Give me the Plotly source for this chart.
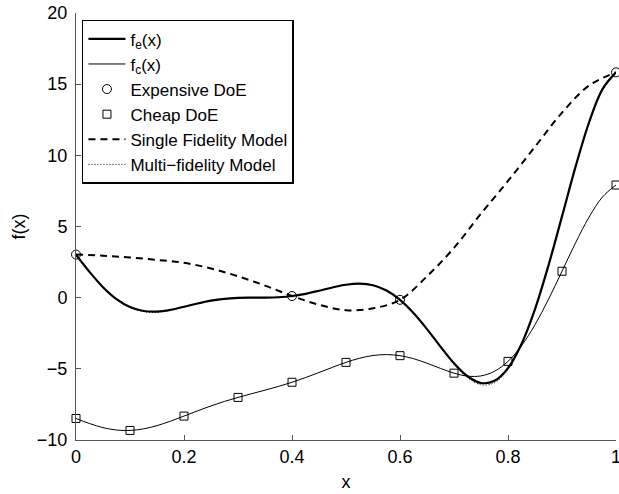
import plotly.graph_objects as go

# sample grid for the smooth curves
x_fine = [0.0, 0.025, 0.05, 0.075, 0.1, 0.125, 0.15, 0.175, 0.2, 0.225, 0.25,
          0.275, 0.3, 0.325, 0.35, 0.375, 0.4, 0.425, 0.45, 0.475, 0.5,
          0.525, 0.55, 0.575, 0.6, 0.625, 0.65, 0.675, 0.7, 0.725, 0.75,
          0.775, 0.8, 0.825, 0.85, 0.875, 0.9, 0.925, 0.95, 0.975, 1.0]

# expensive (high fidelity) function
f_e = [3.027, 1.813, 0.738, -0.100, -0.657, -0.935, -0.978, -0.854, -0.640, -0.407, -0.210,
       -0.079, -0.016, -0.000, 0.002, 0.030, 0.115, 0.270, 0.483, 0.717, 0.909,
       0.986, 0.871, 0.503, -0.150, -1.074, -2.209, -3.439, -4.606, -5.522, -5.993,
       -5.845, -4.949, -3.253, -0.799, 2.272, 5.712, 9.187, 12.303, 14.649, 15.830]

# cheap (low fidelity) function
f_c = [-8.487, -8.843, -9.131, -9.300, -9.329, -9.218, -8.989, -8.677, -8.320, -7.954, -7.605,
       -7.289, -7.008, -6.750, -6.499, -6.235, -5.943, -5.615, -5.259, -4.892, -4.545,
       -4.257, -4.064, -3.999, -4.075, -4.287, -4.605, -4.970, -5.303, -5.511, -5.497,
       -5.173, -4.475, -3.377, -1.900, -0.114, 1.856, 3.844, 5.652, 7.075, 7.915]

# co-kriging prediction
f_multi = [3.027, 1.800, 0.720, -0.130, -0.700, -0.975, -1.020, -0.890, -0.660, -0.415, -0.212,
           -0.080, -0.016, 0.000, 0.003, 0.031, 0.115, 0.272, 0.486, 0.720, 0.910,
           0.985, 0.866, 0.496, -0.150, -1.090, -2.240, -3.490, -4.680, -5.620, -6.120,
           -5.980, -5.060, -3.320, -0.840, 2.240, 5.690, 9.170, 12.250, 14.600, 15.830]

# ordinary kriging on the expensive points only
x_sf = [0.0, 0.05, 0.1, 0.15, 0.2, 0.25, 0.3, 0.35, 0.4, 0.45, 0.5,
        0.55, 0.6, 0.65, 0.7, 0.75, 0.8, 0.85, 0.9, 0.95, 1.0]
f_single = [3.03, 2.95, 2.82, 2.65, 2.45, 2.05, 1.50, 0.85, 0.12, -0.50, -0.88,
            -0.75, -0.15, 1.50, 3.50, 5.90, 8.20, 10.60, 13.00, 14.90, 15.83]

# designs of experiments
x_exp = [0.0, 0.4, 0.6, 1.0]
y_exp = [3.027, 0.115, -0.150, 15.830]
x_cheap = [0.0, 0.1, 0.2, 0.3, 0.4, 0.5, 0.6, 0.7, 0.8, 0.9, 1.0]
y_cheap = [-8.487, -9.329, -8.320, -7.008, -5.943, -4.545, -4.075, -5.303, -4.475, 1.856, 7.915]

x_ticks = [0, 0.2, 0.4, 0.6, 0.8, 1]
x_tick_labels = ["0", "0.2", "0.4", "0.6", "0.8", "1"]
y_ticks = [-10, -5, 0, 5, 10, 15, 20]
y_tick_labels = ["\u221210", "\u22125", "0", "5", "10", "15", "20"]

FONT = "Liberation Sans, Arial, Helvetica, sans-serif"

fig = go.Figure()
fig.add_trace(go.Scatter(x=x_fine, y=f_e, mode="lines", name="f<sub>e</sub>(x)",
                         cliponaxis=False,
                         line=dict(color="black", width=2.2, shape="spline")))
fig.add_trace(go.Scatter(x=x_fine, y=f_c, mode="lines", name="f<sub>c</sub>(x)",
                         cliponaxis=False,
                         line=dict(color="black", width=1, shape="spline")))
fig.add_trace(go.Scatter(x=x_exp, y=y_exp, mode="markers", name="Expensive DoE",
                         cliponaxis=False,
                         marker=dict(symbol="circle-open", size=9, color="black",
                                     line=dict(width=1, color="black"))))
fig.add_trace(go.Scatter(x=x_cheap, y=y_cheap, mode="markers", name="Cheap DoE",
                         cliponaxis=False,
                         marker=dict(symbol="square-open", size=8, color="black",
                                     line=dict(width=1, color="black"))))
fig.add_trace(go.Scatter(x=x_sf, y=f_single, mode="lines", name="Single Fidelity Model",
                         cliponaxis=False,
                         line=dict(color="black", width=2, dash="7px,5px", shape="spline")))
fig.add_trace(go.Scatter(x=x_fine, y=f_multi, mode="lines", name="Multi\u2212fidelity Model",
                         cliponaxis=False,
                         line=dict(color="black", width=1, dash="1px,2px", shape="spline")))

axis_common = dict(
    showgrid=False, zeroline=False, showline=True, mirror=False,
    linecolor="#555555", linewidth=1, ticks="inside", ticklen=5,
    tickcolor="#555555", tickfont=dict(family=FONT, size=18, color="black"),
    ticklabeloverflow="allow", automargin=False,
)

fig.update_layout(
    width=619, height=494,
    margin=dict(l=76, r=3, t=13, b=54),
    paper_bgcolor="white", plot_bgcolor="white",
    font=dict(family=FONT, size=18, color="black"),
    xaxis=dict(range=[0, 1], tickvals=x_ticks, ticktext=x_tick_labels,
               title=dict(text="x", font=dict(family=FONT, size=18), standoff=9),
               **axis_common),
    yaxis=dict(range=[-10, 20], tickvals=y_ticks, ticktext=y_tick_labels,
               ticklabelstandoff=4,
               title=dict(text="f(x)", font=dict(family=FONT, size=18), standoff=6),
               **axis_common),
    legend=dict(x=0.011, y=0.984, xanchor="left", yanchor="top",
                bgcolor="white", bordercolor="black", borderwidth=1.5,
                font=dict(family=FONT, size=17, color="black"),
                tracegroupgap=0, itemwidth=37),
    showlegend=True,
)

fig.write_html("out.html")
